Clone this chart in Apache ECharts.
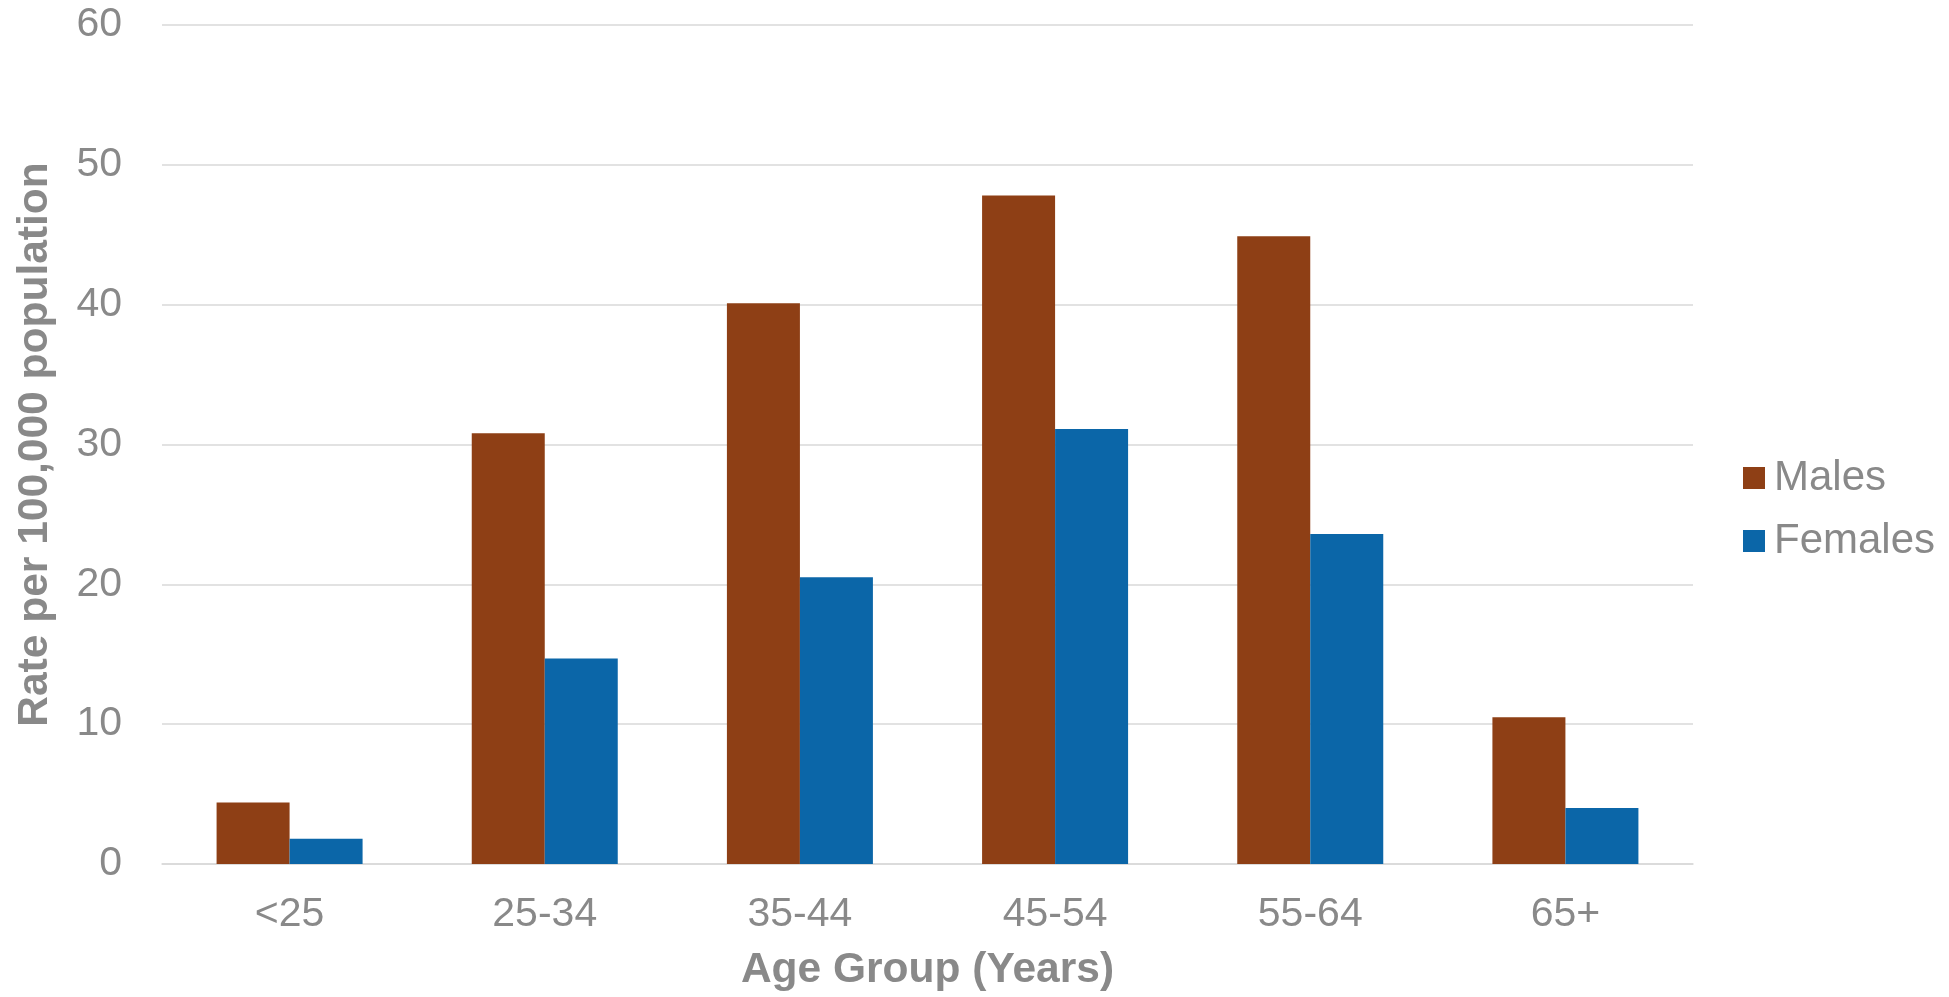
<!DOCTYPE html>
<html>
<head>
<meta charset="utf-8">
<script src="https://cdn.jsdelivr.net/npm/echarts@6/dist/echarts.min.js"></script>
<style>
html,body{margin:0;padding:0;background:#fff;}
#chart{width:1949px;height:997px;}
</style>
</head>
<body>
<div id="chart"></div>
<script>
const categories = ['<25', '25-34', '35-44', '45-54', '55-64', '65+'];
const males = [4.4, 30.8, 40.1, 47.8, 44.9, 10.5];
const females = [1.8, 14.7, 20.5, 31.1, 23.6, 4.0];
const yTicks = { min: 0, max: 60, interval: 10 };

const chart = echarts.init(document.getElementById('chart'), null, { renderer: 'canvas' });
const gray = '#898989';
const font = 'Liberation Sans, Arial, sans-serif';
chart.setOption({
  animation: false,
  backgroundColor: '#ffffff',
  grid: { left: 162, right: 256, top: 25, bottom: 132, containLabel: false },
  legend: {
    orient: 'vertical',
    left: 1738,
    top: 452,
    itemWidth: 22,
    itemHeight: 22,
    itemGap: 21,
    icon: 'rect',
    textStyle: { color: gray, fontSize: 42, fontFamily: font, padding: [0, 0, 0, 4] },
    data: ['Males', 'Females']
  },
  xAxis: {
    type: 'category',
    data: categories,
    name: 'Age Group (Years)',
    nameLocation: 'middle',
    nameGap: 85,
    nameTextStyle: { color: gray, fontSize: 42.5, fontWeight: 'bold', fontFamily: font },
    axisLine: { show: true, lineStyle: { color: '#d9d9d9', width: 1.5 } },
    axisTick: { show: false },
    axisLabel: { color: gray, fontSize: 41, fontFamily: font, margin: 30 }
  },
  yAxis: {
    type: 'value',
    min: yTicks.min,
    max: yTicks.max,
    interval: yTicks.interval,
    name: 'Rate per 100,000 population',
    nameLocation: 'middle',
    nameGap: 105,
    nameTextStyle: { color: gray, fontSize: 42.5, fontWeight: 'bold', fontFamily: font },
    axisLine: { show: false },
    axisTick: { show: false },
    axisLabel: { color: gray, fontSize: 41, fontFamily: font, margin: 40 },
    splitLine: { lineStyle: { color: '#d9d9d9', width: 1.5 } }
  },
  series: [
    { name: 'Males', type: 'bar', data: males, barWidth: 73, barGap: '0%',
      itemStyle: { color: '#8E3F15' } },
    { name: 'Females', type: 'bar', data: females, barWidth: 73, barGap: '0%',
      itemStyle: { color: '#0B66A8' } }
  ]
});
</script>
</body>
</html>
